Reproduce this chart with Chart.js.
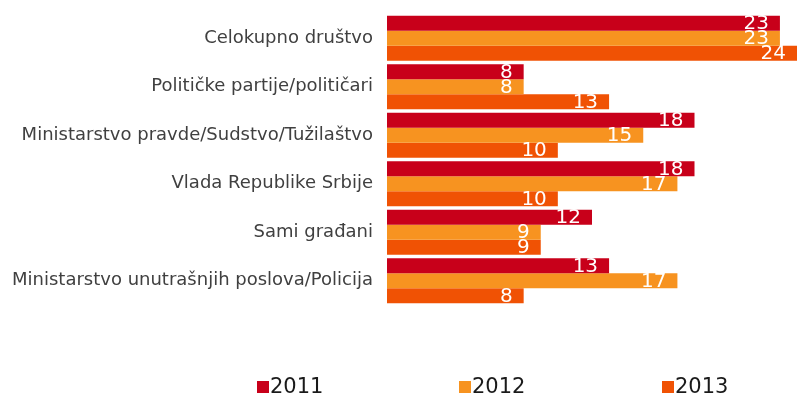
<!DOCTYPE html>
<html>
<head>
<meta charset="utf-8">
<script src="https://cdn.jsdelivr.net/npm/chart.js@4/dist/chart.umd.min.js"></script>
<style>
    html, body { margin: 0; padding: 0; background: #fff; }
    #wrap { width: 799px; height: 400px; position: relative; }
</style>
</head>
<body>
<div id="wrap"><canvas id="chart"></canvas></div>
<script>
const categories = [
    'Celokupno društvo',
    'Političke partije/političari',
    'Ministarstvo pravde/Sudstvo/Tužilaštvo',
    'Vlada Republike Srbije',
    'Sami građani',
    'Ministarstvo unutrašnjih poslova/Policija'
];
const seriesNames = ['2011', '2012', '2013'];
const values2011 = [23, 8, 18, 18, 12, 13];
const values2012 = [23, 8, 15, 17, 9, 17];
const values2013 = [24, 13, 10, 10, 9, 8];

const colors = ['#C8001A', '#F79320', '#F05204'];

// white numbers at the end of each bar
const valueLabels = {
    id: 'valueLabels',
    afterDatasetsDraw(chart) {
        const ctx = chart.ctx;
        ctx.save();
        ctx.font = '20px "DejaVu Sans"';
        ctx.fillStyle = '#ffffff';
        ctx.textAlign = 'right';
        ctx.textBaseline = 'middle';
        chart.data.datasets.forEach((ds, i) => {
            chart.getDatasetMeta(i).data.forEach((bar, j) => {
                ctx.fillText(String(ds.data[j]), bar.x - 11, bar.y + 1);
            });
        });
        ctx.restore();
    }
};

// legend spread across the bottom like the original
const wideLegend = {
    id: 'wideLegend',
    afterDraw(chart) {
        const ctx = chart.ctx;
        const starts = [257, 459, 662];
        ctx.save();
        ctx.font = '21px "DejaVu Sans"';
        ctx.textBaseline = 'middle';
        ctx.textAlign = 'left';
        chart.data.datasets.forEach((ds, i) => {
            ctx.fillStyle = ds.backgroundColor;
            ctx.fillRect(starts[i], 381, 12, 12);
            ctx.fillStyle = '#1a1a1a';
            ctx.fillText(ds.label, starts[i] + 13, 388);
        });
        ctx.restore();
    }
};

new Chart(document.getElementById('chart'), {
    type: 'bar',
    data: {
        labels: categories,
        datasets: [
            { label: seriesNames[0], data: values2011, backgroundColor: colors[0] },
            { label: seriesNames[1], data: values2012, backgroundColor: colors[1] },
            { label: seriesNames[2], data: values2013, backgroundColor: colors[2] }
        ]
    },
    options: {
        indexAxis: 'y',
        responsive: true,
        maintainAspectRatio: false,
        animation: false,
        layout: { padding: { top: 14, right: 2, bottom: 95, left: 0 } },
        datasets: {
            bar: { categoryPercentage: 0.93, barPercentage: 1.0 }
        },
        scales: {
            x: {
                display: false,
                min: 0,
                max: 24
            },
            y: {
                grid: { display: false, drawTicks: false },
                border: { display: false },
                afterFit(scale) {
                    scale.width = 387;
                    scale.paddingTop = 0;
                    scale.paddingBottom = 0;
                },
                ticks: {
                    padding: 14,
                    color: '#404040',
                    font: { family: '"DejaVu Sans"', size: 18 }
                }
            }
        },
        plugins: {
            legend: { display: false },
            tooltip: { enabled: false }
        }
    },
    plugins: [valueLabels, wideLegend]
});
</script>
</body>
</html>
